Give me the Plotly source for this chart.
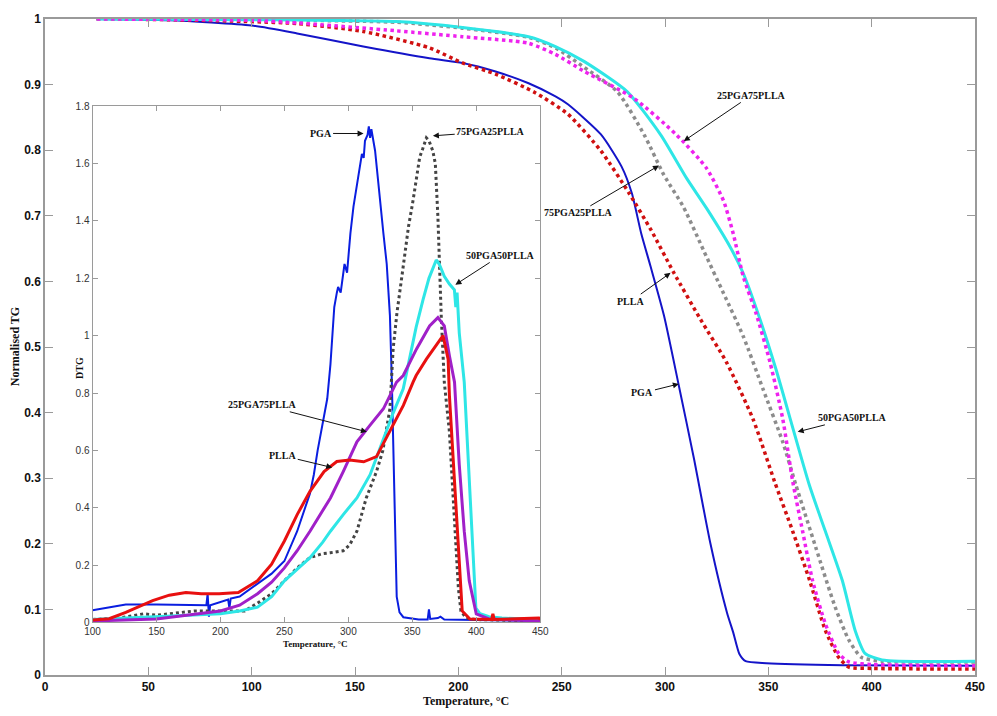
import plotly.graph_objects as go

# ---------------- Main TG data (Normalised TG vs Temperature) ----------------
t_pga = [25, 60, 100, 122, 154, 186, 202, 218, 234, 247, 253, 269, 279, 284, 288.5, 293,
         299.5, 306.7, 314, 322, 330, 333, 336, 339, 349, 386, 450]
tg_pga = [1.0, 0.998, 0.99, 0.978, 0.958, 0.94, 0.933, 0.92, 0.902, 0.882, 0.87, 0.824, 0.775,
          0.734, 0.673, 0.623, 0.548, 0.441, 0.33, 0.2, 0.095, 0.065, 0.032, 0.021, 0.018, 0.015, 0.014]

t_plla = [25, 60, 100, 122, 154, 186, 202, 218, 237, 253, 269, 282.7, 293.3, 304.3, 317.2,
          329.7, 342.6, 353, 361.8, 370, 377.6, 384, 389, 400, 450]
tg_plla = [1.0, 0.999, 0.996, 0.993, 0.981, 0.956, 0.933, 0.916, 0.888, 0.855, 0.799, 0.734,
           0.678, 0.613, 0.542, 0.477, 0.39, 0.295, 0.219, 0.144, 0.068, 0.027, 0.012, 0.01, 0.009]

t_75 = [25, 100, 170, 202, 234, 247, 261, 277, 290, 299.5, 309, 318.7, 328.3, 337.9, 347.4,
        357, 363.3, 373, 382.4, 389, 395, 405, 450]
tg_75 = [1.0, 0.999, 0.995, 0.986, 0.972, 0.956, 0.926, 0.889, 0.823, 0.762, 0.713, 0.647,
         0.582, 0.516, 0.436, 0.355, 0.29, 0.194, 0.103, 0.053, 0.027, 0.021, 0.02]

t_50 = [25, 100, 170, 202, 234, 247, 261, 281.8, 298, 310.5, 320, 331.6, 337.9, 346, 353.7,
        369.8, 377.6, 385.8, 392, 396.8, 405, 450]
tg_50 = [1.0, 0.999, 0.996, 0.987, 0.973, 0.958, 0.935, 0.889, 0.823, 0.757, 0.712, 0.652,
         0.612, 0.542, 0.466, 0.29, 0.219, 0.144, 0.068, 0.033, 0.023, 0.021]

t_25 = [25, 100, 122, 170, 202, 234, 247, 261, 285, 305.7, 320, 328.3, 333, 337.9, 344,
        350.8, 357, 361.8, 366.6, 371.4, 377.6, 384, 389, 400, 450]
tg_25 = [1.0, 0.998, 0.994, 0.982, 0.973, 0.963, 0.946, 0.92, 0.879, 0.823, 0.773, 0.723,
         0.673, 0.607, 0.552, 0.477, 0.39, 0.295, 0.219, 0.144, 0.078, 0.033, 0.02, 0.016, 0.014]

# ---------------- Inset DTG data ----------------
d_pga_t = [100, 126, 150, 177, 189, 190, 191, 192, 200, 206, 207, 208, 215, 229, 240, 250, 260,
           270, 273, 276, 283.5, 286, 289, 291, 292, 294, 295, 297, 299, 301.6, 304, 306.7, 308,
           310.6, 312, 313, 315, 316, 317, 318, 320.9, 324, 327.4, 330, 332.5, 334, 336, 337.8,
           340, 343, 355, 362, 363, 364, 370, 372, 375, 385, 400, 450]
d_pga = [0.042, 0.062, 0.062, 0.059, 0.06, 0.1, 0.02, 0.06, 0.07, 0.08, 0.05, 0.083, 0.09, 0.134,
         0.17, 0.214, 0.318, 0.45, 0.515, 0.6, 0.78, 0.9, 1.1, 1.15, 1.17, 1.15, 1.18, 1.25, 1.22,
         1.357, 1.45, 1.53, 1.56, 1.634, 1.62, 1.68, 1.7, 1.73, 1.69, 1.72, 1.645, 1.5, 1.357,
         1.25, 1.07, 0.84, 0.45, 0.09, 0.035, 0.018, 0.01, 0.01, 0.045, 0.012, 0.015, 0.02, 0.01,
         0.01, 0.008, 0.005]

d_75_t = [100, 120, 140, 150, 160, 180, 200, 219, 230, 240, 250, 260, 270, 280, 286, 296, 301,
          306.7, 314, 322, 327, 332.5, 335, 338, 342.9, 347, 350.6, 355.8, 358, 361, 363, 366,
          368, 370, 372.6, 375, 379, 382, 384.2, 386, 388, 392, 400, 450]
d_75 = [0.01, 0.015, 0.03, 0.025, 0.03, 0.04, 0.04, 0.04, 0.07, 0.1, 0.145, 0.19, 0.226, 0.24,
        0.243, 0.25, 0.27, 0.318, 0.434, 0.526, 0.6, 0.745, 0.953, 1.08, 1.242, 1.38, 1.472,
        1.623, 1.65, 1.69, 1.68, 1.645, 1.6, 1.415, 1.07, 0.838, 0.665, 0.45, 0.26, 0.12, 0.04,
        0.015, 0.01, 0.005]

d_50_t = [100, 130, 150, 175, 200, 215, 229, 240, 250, 260, 270, 280, 286, 296, 306.7, 317,
          327.4, 335, 342.9, 348, 353, 358.4, 363, 368.7, 371, 375, 379, 382.9, 384, 385,
          386.7, 390.6, 392, 395.8, 399.7, 403, 410, 420, 450]
d_50 = [0.01, 0.015, 0.02, 0.025, 0.03, 0.04, 0.053, 0.09, 0.145, 0.185, 0.226, 0.28, 0.318,
        0.376, 0.434, 0.515, 0.641, 0.73, 0.815, 0.93, 1.03, 1.126, 1.2, 1.264, 1.25, 1.207,
        1.18, 1.16, 1.1, 1.15, 1.01, 0.838, 0.722, 0.376, 0.05, 0.03, 0.02, 0.015, 0.01]

d_25_t = [100, 150, 200, 215, 229, 240, 250, 260, 270, 280, 286, 296, 306.7, 317, 327.4, 337.7,
          342.9, 353.2, 363.5, 370, 375, 379, 383, 386.7, 390.6, 394.5, 400, 410, 450]
d_25 = [0.005, 0.012, 0.04, 0.06, 0.1, 0.14, 0.19, 0.25, 0.318, 0.39, 0.434, 0.526, 0.63,
        0.688, 0.745, 0.838, 0.861, 0.953, 1.034, 1.063, 1.034, 0.93, 0.838, 0.55, 0.318,
        0.145, 0.03, 0.012, 0.005]

d_plla_t = [100, 113, 126, 147, 160, 173, 185, 199, 214, 229, 240, 250, 260, 270, 281, 291,
            301, 312, 322, 332.5, 343, 350.6, 353, 361, 368.7, 374, 378, 379, 383, 386.7, 389,
            395, 412, 413, 414, 449, 450]
d_plla = [0.008, 0.013, 0.035, 0.076, 0.095, 0.104, 0.1, 0.1, 0.104, 0.145, 0.203, 0.284,
          0.376, 0.457, 0.526, 0.561, 0.566, 0.56, 0.578, 0.665, 0.757, 0.838, 0.861, 0.918,
          0.965, 1.0, 0.918, 0.792, 0.491, 0.203, 0.04, 0.012, 0.01, 0.03, 0.01, 0.015, 0.01]

main_xticks = [0, 50, 100, 150, 200, 250, 300, 350, 400, 450]
main_yticks = [0, 0.1, 0.2, 0.3, 0.4, 0.5, 0.6, 0.7, 0.8, 0.9, 1]
main_ylabels = ["0", "0.1", "0.2", "0.3", "0.4", "0.5", "0.6", "0.7", "0.8", "0.9", "1"]
inset_xticks = [100, 150, 200, 250, 300, 350, 400, 450]
inset_yticks = [0, 0.2, 0.4, 0.6, 0.8, 1, 1.2, 1.4, 1.6, 1.8]
inset_ylabels = ["0", "0.2", "0.4", "0.6", "0.8", "1", "1.2", "1.4", "1.6", "1.8"]

fig = go.Figure()

# main TG traces
fig.add_trace(go.Scatter(x=t_pga, y=tg_pga, mode="lines", line=dict(color="#1414C8", width=2, shape="spline", smoothing=0.6),
                         xaxis="x", yaxis="y", name="PGA"))
fig.add_trace(go.Scatter(x=t_plla, y=tg_plla, mode="lines", line=dict(color="#D01010", width=3.5, dash="dot", shape="spline", smoothing=0.6),
                         xaxis="x", yaxis="y", name="PLLA"))
fig.add_trace(go.Scatter(x=t_75, y=tg_75, mode="lines", line=dict(color="#8C8C8C", width=3.5, dash="dot", shape="spline", smoothing=0.6),
                         xaxis="x", yaxis="y", name="75PGA25PLLA"))
fig.add_trace(go.Scatter(x=t_50, y=tg_50, mode="lines", line=dict(color="#2EE6E6", width=3, shape="spline", smoothing=0.6),
                         xaxis="x", yaxis="y", name="50PGA50PLLA"))
fig.add_trace(go.Scatter(x=t_25, y=tg_25, mode="lines", line=dict(color="#EE22EE", width=3.5, dash="dot", shape="spline", smoothing=0.6),
                         xaxis="x", yaxis="y", name="25PGA75PLLA"))

# inset DTG traces
fig.add_trace(go.Scatter(x=d_pga_t, y=d_pga, mode="lines", line=dict(color="#0A1EE0", width=2),
                         xaxis="x2", yaxis="y2"))
fig.add_trace(go.Scatter(x=d_75_t, y=d_75, mode="lines", line=dict(color="#444444", width=3, dash="dot"),
                         xaxis="x2", yaxis="y2"))
fig.add_trace(go.Scatter(x=d_50_t, y=d_50, mode="lines", line=dict(color="#2EE6E6", width=3),
                         xaxis="x2", yaxis="y2"))
fig.add_trace(go.Scatter(x=d_25_t, y=d_25, mode="lines", line=dict(color="#A020C8", width=3),
                         xaxis="x2", yaxis="y2"))
fig.add_trace(go.Scatter(x=d_plla_t, y=d_plla, mode="lines", line=dict(color="#E81010", width=3),
                         xaxis="x2", yaxis="y2"))

axis_line = "#9A9A9A"
fig.update_layout(
    width=997, height=716,
    margin=dict(l=45, r=13, t=14, b=41),
    paper_bgcolor="white", plot_bgcolor="white",
    showlegend=False,
    xaxis=dict(domain=[0, 1], range=[0, 450], tickvals=main_xticks, ticks="inside", ticklen=8,
               tickcolor=axis_line, showline=True, linecolor=axis_line, linewidth=1.5, mirror="ticks",
               showgrid=False, zeroline=False,
               tickfont=dict(family="Liberation Sans, Arial", size=12, color="#111", weight="bold"), anchor="y"),
    yaxis=dict(domain=[0, 1], range=[0, 1], tickvals=main_yticks, ticktext=main_ylabels,
               ticks="inside", ticklen=8, tickcolor=axis_line, showline=True, linecolor=axis_line,
               linewidth=1.5, mirror="ticks", showgrid=False, zeroline=False,
               tickfont=dict(family="Liberation Sans, Arial", size=12, color="#111", weight="bold"), anchor="x"),
    xaxis2=dict(domain=[0.0511, 0.5325], range=[100, 450], tickvals=inset_xticks, ticks="inside",
                ticklen=5, tickcolor=axis_line, showline=True, linecolor=axis_line, linewidth=1,
                mirror="ticks", showgrid=False, zeroline=False, anchor="y2",
                tickfont=dict(family="Liberation Sans, Arial", size=10, color="#333")),
    yaxis2=dict(domain=[0.0802, 0.8669], range=[0, 1.8], tickvals=inset_yticks, ticktext=inset_ylabels,
                ticks="inside", ticklen=5, tickcolor=axis_line, showline=True, linecolor=axis_line,
                linewidth=1, mirror="ticks", showgrid=False, zeroline=False, anchor="x2",
                tickfont=dict(family="Liberation Sans, Arial", size=10, color="#333")),
)

serif = "Liberation Serif, Times New Roman"

# axis titles as annotations
fig.add_annotation(text="<b>Temperature, °C</b>", xref="paper", yref="paper", x=0.4527, y=-0.0395,
                   xanchor="center", yanchor="middle", showarrow=False, font=dict(family=serif, size=12, color="#111"))
fig.add_annotation(text="<b>Normalised TG</b>", xref="paper", yref="paper", x=-0.032, y=0.5,
                   xanchor="center", yanchor="middle", textangle=-90, showarrow=False,
                   font=dict(family=serif, size=12, color="#111"))
fig.add_annotation(text="<b>Temperature, °C</b>", xref="paper", yref="paper", x=0.2908, y=0.0476,
                   xanchor="center", yanchor="middle", showarrow=False, font=dict(family=serif, size=9, color="#111"))
fig.add_annotation(text="<b>DTG</b>", xref="paper", yref="paper", x=0.0373, y=0.4675,
                   xanchor="center", yanchor="middle", textangle=-90, showarrow=False,
                   font=dict(family=serif, size=10, color="#111"))

# curve labels with arrows
main_labels = [
    ("25PGA75PLLA", 341.7, 0.8835, 309.1, 0.814),
    ("75PGA25PLLA", 258.1, 0.7045, 297.1, 0.7766),
    ("PLLA", 283.5, 0.570, 302.7, 0.613),
    ("PGA", 289.1, 0.430, 306.7, 0.4437),
    ("50PGA50PLLA", 390.6, 0.392, 364.2, 0.3707),
]
for txt, tx, ty, hx, hy in main_labels:
    fig.add_annotation(text="<b>%s</b>" % txt, x=hx, y=hy, ax=tx, ay=ty, xref="x", yref="y",
                       axref="x", ayref="y", showarrow=True, arrowhead=2, arrowsize=1.2, arrowwidth=1,
                       arrowcolor="#111", font=dict(family=serif, size=10, color="#111"))

inset_labels = [
    ("PGA", 278.3, 1.7054, 311.9, 1.705),
    ("75PGA25PLLA", 411.3, 1.712, 366.1, 1.697),
    ("50PGA50PLLA", 419.0, 1.2797, 383.7, 1.178),
    ("25PGA75PLLA", 233.2, 0.759, 314.5, 0.6646),
    ("PLLA", 248.7, 0.5815, 287.4, 0.54),
]
for txt, tx, ty, hx, hy in inset_labels:
    fig.add_annotation(text="<b>%s</b>" % txt, x=hx, y=hy, ax=tx, ay=ty, xref="x2", yref="y2",
                       axref="x2", ayref="y2", showarrow=True, arrowhead=2, arrowsize=1.2, arrowwidth=1,
                       arrowcolor="#111", font=dict(family=serif, size=10, color="#111"))

fig.write_html("out.html", config={"displayModeBar": False},
               post_script="document.body.style.margin='0';")
